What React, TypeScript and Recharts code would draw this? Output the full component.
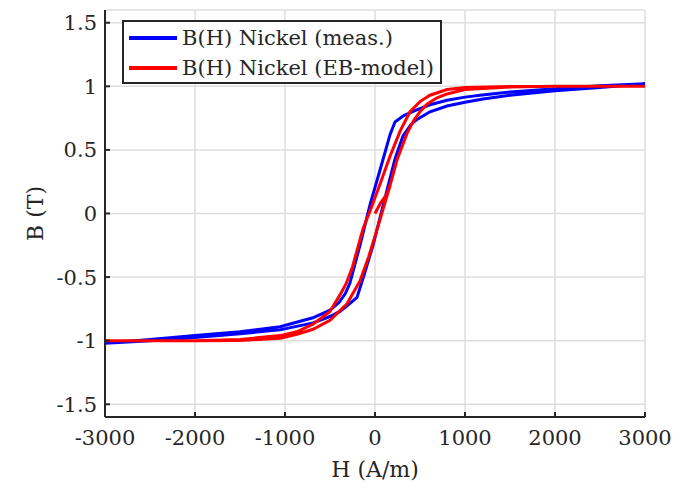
import { LineChart, Line, XAxis, YAxis, CartesianGrid, Label } from 'recharts';

const hTicks = [-3000, -2000, -1000, 0, 1000, 2000, 3000];
const bTicks = [-1.5, -1, -0.5, 0, 0.5, 1, 1.5];

// measured loop, descending branch (+3000 -> -3000 A/m)
const measDescH = [3000, 2500, 2000, 1500, 1167, 1000, 800, 611, 450, 320, 222, 167, 55, -55, -167, -280, -330, -400, -500, -689, -1055, -1500, -2000, -2500, -3000];
const measDescB = [1.02, 1.005, 0.98, 0.955, 0.93, 0.915, 0.89, 0.855, 0.81, 0.77, 0.72, 0.62, 0.34, 0.07, -0.25, -0.55, -0.63, -0.7, -0.76, -0.82, -0.89, -0.93, -0.96, -0.99, -1.02];

// measured loop, ascending branch (-3000 -> +3000 A/m)
const measAscH = [-3000, -2500, -2000, -1500, -1055, -689, -500, -389, -300, -200, -120, -22, 89, 222, 311, 400, 467, 611, 800, 1000, 1200, 1500, 2000, 2500, 3000];
const measAscB = [-1.02, -1.0, -0.975, -0.945, -0.915, -0.86, -0.81, -0.77, -0.72, -0.66, -0.48, -0.25, 0.06, 0.43, 0.61, 0.7, 0.74, 0.8, 0.845, 0.875, 0.9, 0.93, 0.965, 0.99, 1.02];

// EB-model: initial curve from the origin
const modelInitH = [0, 60, 130, 167];
const modelInitB = [0, 0.08, 0.15, 0.22];

// EB-model, ascending branch
const modelAscH = [-3000, -2000, -1500, -1055, -867, -689, -500, -311, -167, -70, 55, 167, 244, 356, 430, 500, 578, 689, 800, 1000, 1500, 2000, 3000];
const modelAscB = [-1.0, -1.0, -0.998, -0.98, -0.95, -0.91, -0.84, -0.71, -0.53, -0.34, -0.05, 0.22, 0.42, 0.63, 0.73, 0.8, 0.86, 0.91, 0.94, 0.975, 0.995, 1.0, 1.0];

// EB-model, descending branch
const modelDescH = [3000, 2000, 1500, 1000, 800, 611, 500, 389, 280, 167, 50, -50, -133, -250, -320, -389, -500, -689, -867, -1055, -1500, -2000, -3000];
const modelDescB = [1.0, 1.0, 0.998, 0.99, 0.975, 0.93, 0.88, 0.8, 0.65, 0.45, 0.22, 0.03, -0.12, -0.42, -0.55, -0.64, -0.77, -0.87, -0.93, -0.96, -0.99, -1.0, -1.0];

const toPoints = (h: number[], b: number[]) => h.map((v, i) => ({ h: v, b: b[i] }));

const measured = [...toPoints(measDescH, measDescB), ...toPoints(measAscH, measAscB)];
const modelInit = toPoints(modelInitH, modelInitB);
const modelLoop = [
  ...toPoints(modelAscH, modelAscB).filter((p) => p.h >= 167),
  ...toPoints(modelDescH, modelDescB),
  ...toPoints(modelAscH, modelAscB),
];

const AXIS = '#262626';
const FONT = 21;

function YTitle(props: any) {
  const vb = props.viewBox;
  const x = 35;
  const y = vb.y + vb.height / 2;
  return (
    <text x={x} y={y} transform={`rotate(-90, ${x}, ${y})`} textAnchor="middle" dominantBaseline="central" fill={AXIS} fontSize={FONT + 1}>
      B (T)
    </text>
  );
}

export default function App() {
  return (
    <div style={{ position: 'absolute', left: 0, top: 0, width: 688, height: 496, background: '#fff', fontFamily: '"DejaVu Serif", serif' }}>
      <LineChart width={688} height={496} margin={{ top: 10, right: 43, left: 0, bottom: 0 }}>
        <CartesianGrid stroke="#dedede" strokeWidth={1.5} />
        <XAxis
          dataKey="h"
          type="number"
          domain={[-3000, 3000]}
          ticks={hTicks}
          height={79}
          allowDataOverflow
          stroke={AXIS}
          strokeWidth={2}
          tickSize={-5}
          tickMargin={18}
          tick={{ fill: AXIS, fontSize: FONT }}
          label={{ value: 'H (A/m)', position: 'insideBottom', offset: 19, fill: AXIS, fontSize: FONT + 1 }}
        />
        <YAxis
          dataKey="b"
          type="number"
          domain={[-1.6, 1.6]}
          ticks={bTicks}
          width={105}
          allowDataOverflow
          stroke={AXIS}
          strokeWidth={2}
          tickSize={-5}
          tickMargin={13}
          tick={{ fill: AXIS, fontSize: FONT }}
        >
          <Label content={YTitle} />
        </YAxis>
        <Line data={measured} dataKey="b" stroke="#0000ff" strokeWidth={3} dot={false} isAnimationActive={false} />
        <Line data={modelInit} dataKey="b" stroke="#ff0000" strokeWidth={3} dot={false} isAnimationActive={false} />
        <Line data={modelLoop} dataKey="b" stroke="#ff0000" strokeWidth={3} dot={false} isAnimationActive={false} />
      </LineChart>
      <div
        style={{
          position: 'absolute',
          left: 122,
          top: 20,
          width: 316,
          height: 59,
          border: `2px solid ${AXIS}`,
          background: '#fff',
          fontSize: 21,
          color: AXIS,
          lineHeight: '30px',
          paddingTop: 1,
        }}
      >
        {[
          { name: 'B(H) Nickel (meas.)', color: '#0000ff' },
          { name: 'B(H) Nickel (EB-model)', color: '#ff0000' },
        ].map((item) => (
          <div key={item.name} style={{ display: 'flex', alignItems: 'center', height: 30, whiteSpace: 'nowrap' }}>
            <span style={{ display: 'inline-block', width: 48, height: 4, background: item.color, marginLeft: 5, marginRight: 5 }} />
            <span>{item.name}</span>
          </div>
        ))}
      </div>
    </div>
  );
}
